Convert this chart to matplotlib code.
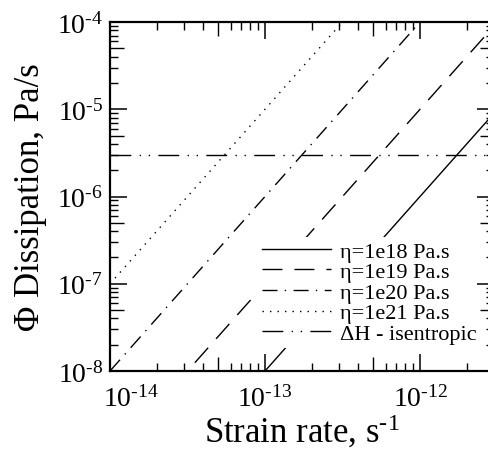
import numpy as np
import matplotlib
matplotlib.use('Agg')
import matplotlib.pyplot as plt
from matplotlib.ticker import LogLocator, NullFormatter, FixedLocator, FuncFormatter
from matplotlib.transforms import ScaledTranslation

plt.rcParams['font.family'] = ['Liberation Serif', 'DejaVu Serif']
plt.rcParams['mathtext.fontset'] = 'custom'
plt.rcParams['mathtext.rm'] = 'Liberation Serif'
plt.rcParams['mathtext.it'] = 'Liberation Serif:italic'
plt.rcParams['lines.scale_dashes'] = False

# end points of each curve
strain_rate = [1e-14, 3e-12]
phi_eta18 = [1e-10, 9e-6]
phi_eta19 = [1e-9, 9e-5]
phi_eta20 = [1e-8, 9e-4]
phi_eta21 = [1e-7, 9e-3]
phi_isentropic = [3e-6, 3e-6]

labels = ['η=1e18 Pa.s', 'η=1e19 Pa.s', 'η=1e20 Pa.s', 'η=1e21 Pa.s',
          'ΔH - isentropic']
xticks = [1e-14, 1e-13, 1e-12]
yticks = [1e-8, 1e-7, 1e-6, 1e-5, 1e-4]

fig = plt.figure(figsize=(4.89, 4.6), dpi=100)
ax = fig.add_axes([110 / 489, 88 / 460, 384 / 489, 349 / 460])

lw = 1.0
ax.plot(strain_rate, phi_eta18, color='black', lw=lw, ls='-', label=labels[0])
ax.plot(strain_rate, phi_eta19, color='black', lw=lw, dashes=(14.4, 8.6), label=labels[1])
ax.plot(strain_rate, phi_eta20, color='black', lw=lw, dashes=(10.8, 5.2, 1.0, 5.4), label=labels[2])
ax.plot(strain_rate, phi_eta21, color='black', lw=lw, dashes=(1.0, 4.4), label=labels[3])
ax.plot(strain_rate, phi_isentropic, color='black', lw=lw,
        dashes=(15, 6, 1.0, 5.5, 1.0, 6), label=labels[4])

ax.set_xscale('log')
ax.set_yscale('log')
ax.set_xlim(1e-14, 3e-12)
ax.set_ylim(1e-8, 1e-4)
ax.set_axisbelow(False)


def pow10(v, pos):
    n = int(round(np.log10(v)))
    return '$\\mathdefault{10^{\u2010%d}}$' % abs(n)


ax.xaxis.set_major_locator(FixedLocator(xticks))
ax.yaxis.set_major_locator(FixedLocator(yticks))
ax.xaxis.set_major_formatter(FuncFormatter(pow10))
ax.yaxis.set_major_formatter(FuncFormatter(pow10))
ax.xaxis.set_minor_locator(LogLocator(base=10, subs=np.arange(2, 10), numticks=50))
ax.yaxis.set_minor_locator(LogLocator(base=10, subs=np.arange(2, 10), numticks=50))
ax.xaxis.set_minor_formatter(NullFormatter())
ax.yaxis.set_minor_formatter(NullFormatter())

for s in ax.spines.values():
    s.set_linewidth(1.6)
ax.tick_params(which='both', direction='in', top=True, right=True, colors='black')
ax.tick_params(which='major', length=12, width=1.1, labelsize=20, pad=5)
ax.tick_params(which='minor', length=6, width=1.0)
ax.tick_params(axis='x', which='major', pad=10)

# medium ticks at 5x each decade
for axis in (ax.xaxis, ax.yaxis):
    locs = axis.get_minorticklocs()
    for t, loc in zip(axis.get_minor_ticks(len(locs)), locs):
        m = loc / 10 ** np.floor(np.log10(loc) + 1e-9)
        if abs(m - 5) < 0.01:
            t.tick1line.set_markersize(10)
            t.tick2line.set_markersize(10)

# first x label sits right of its tick
first = ax.xaxis.get_major_ticks()[0].label1
first.set_transform(first.get_transform() + ScaledTranslation(21 / 100, 0, fig.dpi_scale_trans))

ax.set_ylabel('Φ Dissipation, Pa/s', fontsize=25)
ax.yaxis.set_label_coords(-0.165, 0.5)
ax.set_xlabel('Strain rate, s$^{\u20101}$', fontsize=25)
ax.xaxis.set_label_coords(0.5, -0.118)

leg = ax.legend(loc='upper left', bbox_to_anchor=(0.385, 0.385), fontsize=16,
                handlelength=3.1, handletextpad=0.4, labelspacing=0.0,
                borderpad=0.2, borderaxespad=0, fancybox=False, frameon=True)
leg.get_frame().set_edgecolor('none')
leg.get_frame().set_facecolor('white')
leg.get_frame().set_alpha(1.0)
leg.set_zorder(2.2)

fig.savefig('out.png', dpi=100)
